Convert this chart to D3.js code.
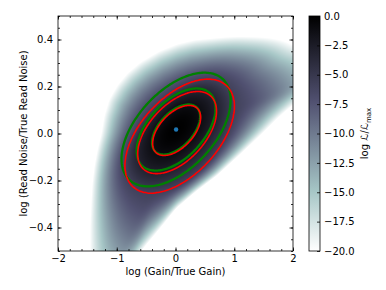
<!DOCTYPE html>
<html>
<head>
<meta charset="utf-8">
<script src="https://cdn.jsdelivr.net/npm/d3@7"></script>
<style>
  body { margin: 0; background: #fff; }
  svg { font-family: "DejaVu Sans", sans-serif; }
</style>
</head>
<body>
<svg id="chart" width="386" height="290"></svg>
<script>
// axes
var xDomain = [-2, 2];
var yDomain = [-0.5, 0.5];
var xMajor = [-2, -1, 0, 1, 2];
var yMajor = [-0.4, -0.2, 0.0, 0.2, 0.4];
var cbarTicks = [0, -2.5, -5, -7.5, -10, -12.5, -15, -17.5, -20];

// best fit + gaussian (fisher) approximation
var bestFit = [0.01, 0.017];
var fisherSigma = [0.27, 0.0703];
var fisherRho = 0.52;
var sigmaLevels = [1.515, 2.486, 3.439];      // 1,2,3 sigma for 2 params
var logLLevels = [-1.15, -3.09, -5.915];       // same levels in log L
// exact contours sit a bit off the gaussian ones (data units)
var exactShift = [[0.009, -0.004], [0.017, -0.013], [0.060, -0.028]];

// where the surface fades out to white
var edgeLevel = -19.5;
var edgeX = [-0.774, -0.587, -0.298, 0.009, 0.349, 0.706, 1.098, 1.472, 1.779, 2.0, 2.25, 2.5, 2.7, 2.55, 2.3, 2.0, 1.864, 1.609, 1.404, 1.098, 0.843, 0.587, 0.332, 0.043, -0.264, -0.587, -0.809, -0.979, -1.115, -1.200, -1.251, -1.319, -1.370, -1.404, -1.421, -1.438, -1.438, -1.421, -1.353, -1.234, -1.115, -0.945];
var edgeY = [-0.560, -0.496, -0.411, -0.317, -0.245, -0.177, -0.087, 0.002, 0.079, 0.125, 0.175, 0.215, 0.262, 0.310, 0.345, 0.368, 0.387, 0.402, 0.406, 0.409, 0.406, 0.400, 0.394, 0.377, 0.347, 0.300, 0.253, 0.202, 0.143, 0.074, -0.002, -0.070, -0.138, -0.211, -0.283, -0.389, -0.496, -0.581, -0.657, -0.708, -0.700, -0.632];
var edgeBend = 1.2;   // how long the surface stays dark before fading

// bone_r colormap
var boneStops = [0, -7.302, -14.921, -20];
var boneColors = ["#000000", "#515171", "#a6c6c6", "#ffffff"];

var svg = d3.select("#chart");
var plotL = 58, plotT = 16, W = 235, H = 235;

var x = d3.scaleLinear().domain(xDomain).range([plotL, plotL + W]);
var y = d3.scaleLinear().domain(yDomain).range([plotT + H, plotT]);
var color = d3.scaleLinear().domain(boneStops).range(boneColors).clamp(true);

// ---- surface, in "math" pixels (y up) around the best fit
var cx = x(bestFit[0]), cy = y(bestFit[1]);
var a = fisherSigma[0] * W / (xDomain[1] - xDomain[0]);
var b = fisherSigma[1] * H / (yDomain[1] - yDomain[0]);
var rho = fisherRho;

function quad(ux, uy, vx, vy) {
  return (ux * vx / (a * a) - rho * (ux * vy + uy * vx) / (a * b) + uy * vy / (b * b)) / (1 - rho * rho);
}
var shifts = exactShift.map(function(s) {
  return [x(bestFit[0] + s[0]) - cx, cy - y(bestFit[1] + s[1])];
});
function ellipseRadius(k, ux, uy) {
  var o = shifts[k], kk = sigmaLevels[k];
  var A = quad(ux, uy, ux, uy), B = quad(ux, uy, o[0], o[1]), C = quad(o[0], o[1], o[0], o[1]) - kk * kk;
  return (B + Math.sqrt(B * B - A * C)) / A;
}

// edge radius vs angle (ray cast on the edge outline)
var edgePts = edgeX.map(function(d, i) { return [x(d) - cx, cy - y(edgeY[i])]; });
var NA = 1440, edgeR = new Float64Array(NA);
for (var i = 0; i < NA; i++) {
  var th = 2 * Math.PI * i / NA, ux = Math.cos(th), uy = Math.sin(th), best = 0;
  for (var j = 0; j < edgePts.length; j++) {
    var A = edgePts[j], Bp = edgePts[(j + 1) % edgePts.length];
    var dx = Bp[0] - A[0], dy = Bp[1] - A[1];
    var den = ux * dy - uy * dx;
    if (Math.abs(den) < 1e-12) continue;
    var t = (A[0] * dy - A[1] * dx) / den, s = (A[0] * uy - A[1] * ux) / den;
    if (s >= 0 && s <= 1 && t > best) best = t;
  }
  edgeR[i] = best;
}
// soften the polygon corners
var edgeS = new Float64Array(NA), win = 10;
for (var i = 0; i < NA; i++) {
  var sum = 0;
  for (var j = -win; j <= win; j++) sum += edgeR[(i + j + NA) % NA];
  edgeS[i] = sum / (2 * win + 1);
}
function edgeRadius(th) {
  var f = ((th / (2 * Math.PI)) * NA + NA) % NA, i0 = Math.floor(f), w = f - i0;
  return edgeS[i0] * (1 - w) + edgeS[(i0 + 1) % NA] * w;
}

var sVals = [0].concat(logLLevels.map(function(l) { return Math.sqrt(-l); }), [Math.sqrt(-edgeLevel)]);
function logL(X, Y) {
  var r = Math.sqrt(X * X + Y * Y);
  if (r < 1e-9) return 0;
  var ux = X / r, uy = Y / r;
  var rs = [0];
  for (var k = 0; k < sigmaLevels.length; k++) rs.push(ellipseRadius(k, ux, uy));
  rs.push(edgeRadius(Math.atan2(uy, ux)));
  var i = 1;
  while (i < rs.length - 1 && r > rs[i]) i++;
  var f = (r - rs[i - 1]) / (rs[i] - rs[i - 1]);
  if (i === rs.length - 1) f = f > 0 ? Math.pow(f, edgeBend) : f;
  var s = sVals[i - 1] + (sVals[i] - sVals[i - 1]) * f;
  return -s * s;
}

var values = new Float64Array(W * H);
for (var j = 0; j < H; j++) {
  for (var i = 0; i < W; i++) {
    values[j * W + i] = logL(plotL + i + 0.5 - cx, cy - (plotT + j + 0.5));
  }
}

var canvas = document.createElement("canvas");
canvas.width = W; canvas.height = H;
var ctx = canvas.getContext("2d");
var img = ctx.createImageData(W, H);
for (var p = 0; p < W * H; p++) {
  var c = d3.rgb(color(values[p]));
  img.data[4 * p] = c.r; img.data[4 * p + 1] = c.g; img.data[4 * p + 2] = c.b; img.data[4 * p + 3] = 255;
}
ctx.putImageData(img, 0, 0);

svg.append("image")
  .attr("x", plotL).attr("y", plotT).attr("width", W).attr("height", H)
  .attr("preserveAspectRatio", "none")
  .attr("href", canvas.toDataURL());

// gaussian contours (green)
var ellipseLine = d3.line().x(function(d) { return x(d[0]); }).y(function(d) { return y(d[1]); }).curve(d3.curveLinearClosed);
var sx = fisherSigma[0], sy = fisherSigma[1];
sigmaLevels.forEach(function(k) {
  var pts = d3.range(0, 2 * Math.PI, Math.PI / 120).map(function(t) {
    var c = Math.cos(t), s = Math.sin(t);
    return [bestFit[0] + k * sx * c, bestFit[1] + k * sy * (rho * c + Math.sqrt(1 - rho * rho) * s)];
  });
  svg.append("path").attr("d", ellipseLine(pts))
    .attr("fill", "none").attr("stroke", "#008000").attr("stroke-width", 2.3);
});

// exact contours (red)
var contours = d3.contours().size([W, H]).thresholds(logLLevels)(values);
svg.append("g").selectAll("path").data(contours).enter().append("path")
  .attr("d", d3.geoPath(d3.geoIdentity().translate([plotL, plotT])))
  .attr("fill", "none").attr("stroke", "#ff0000").attr("stroke-width", 1.6);

svg.append("circle").attr("cx", cx).attr("cy", cy).attr("r", 2.2).attr("fill", "#1f77b4");

// ---- axes, ticks inward on all four sides
function tidy(g, fs) {
  g.select(".domain").remove();
  g.attr("font-family", null).attr("font-size", fs);
  g.selectAll("line").attr("stroke", "#000").attr("stroke-width", 0.8);
  g.selectAll("text").attr("fill", "#000");
}
var xMinor = d3.range(-2, 2.0001, 0.2), yMinor = d3.range(-0.5, 0.5001, 0.05);
[[d3.axisBottom, plotT + H, true], [d3.axisTop, plotT, false]].forEach(function(s) {
  svg.append("g").attr("transform", "translate(0," + s[1] + ")")
    .call(s[0](x).tickValues(xMinor).tickSize(-2).tickFormat("")).call(tidy, 10);
  svg.append("g").attr("transform", "translate(0," + s[1] + ")")
    .call(s[0](x).tickValues(xMajor).tickSize(-3.5).tickPadding(4).tickFormat(s[2] ? d3.format("d") : "")).call(tidy, 10);
});
[[d3.axisLeft, plotL, true], [d3.axisRight, plotL + W, false]].forEach(function(s) {
  svg.append("g").attr("transform", "translate(" + s[1] + ",0)")
    .call(s[0](y).tickValues(yMinor).tickSize(-2).tickFormat("")).call(tidy, 10);
  svg.append("g").attr("transform", "translate(" + s[1] + ",0)")
    .call(s[0](y).tickValues(yMajor).tickSize(-3.5).tickPadding(5).tickFormat(s[2] ? d3.format(".1f") : "")).call(tidy, 10);
});
svg.append("rect").attr("x", plotL).attr("y", plotT).attr("width", W).attr("height", H)
  .attr("fill", "none").attr("stroke", "#000").attr("stroke-width", 0.8);

svg.append("text").attr("x", x(0)).attr("y", 275).attr("text-anchor", "middle")
  .attr("font-size", 10).text("log (Gain/True Gain)");
svg.append("text").attr("transform", "translate(27," + (plotT + H / 2) + ") rotate(-90)")
  .attr("text-anchor", "middle").attr("font-size", 10).text("log (Read Noise/True Read Noise)");

// ---- colorbar
var cbX = 309, cbW = 11;
var cb = d3.scaleLinear().domain([-20, 0]).range([plotT + H, plotT]);
var grad = svg.append("defs").append("linearGradient").attr("id", "bone")
  .attr("x1", 0).attr("y1", 1).attr("x2", 0).attr("y2", 0);
boneStops.slice().reverse().forEach(function(v) {
  grad.append("stop").attr("offset", (v + 20) / 20).attr("stop-color", color(v));
});
svg.append("rect").attr("x", cbX).attr("y", plotT).attr("width", cbW).attr("height", H)
  .attr("fill", "url(#bone)").attr("stroke", "#000").attr("stroke-width", 0.8);
svg.append("g").attr("transform", "translate(" + (cbX + cbW) + ",0)")
  .call(d3.axisRight(cb).tickValues(cbarTicks).tickSize(-3).tickPadding(4).tickFormat(d3.format(".1f")))
  .call(tidy, 10);

var cbl = svg.append("text").attr("transform", "translate(368," + (plotT + H / 2) + ") rotate(-90)")
  .attr("text-anchor", "middle").attr("font-size", 10);
cbl.append("tspan").text("log ℒ/ℒ");
cbl.append("tspan").attr("font-size", 7).attr("dy", 2.5).text("max");
</script>
</body>
</html>
